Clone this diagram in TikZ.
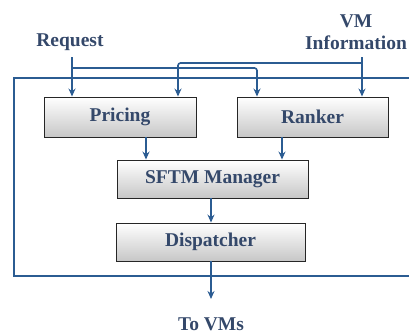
\documentclass[tikz,border=0pt]{standalone}
\usepackage{fontspec}
\setmainfont{Liberation Serif}
\usetikzlibrary{arrows.meta,shadows}
\definecolor{flow}{HTML}{2B5C92}
\definecolor{ink}{HTML}{34486A}
\tikzset{
  module/.style={draw=black!85, line width=0.9pt, top color=white, bottom color=black!22,
    drop shadow={shadow xshift=0.6pt, shadow yshift=-1.4pt, opacity=0.9, fill=black},
    font=\fontsize{19.5}{21}\selectfont\bfseries, text=ink, inner sep=0pt},
  label/.style={font=\fontsize{19.5}{22}\selectfont\bfseries, text=ink, align=center, inner sep=0pt},
  flowline/.style={draw=flow, line width=1.6pt, rounded corners=2.5pt},
  arr/.style={flowline, -{Stealth[length=8pt,width=7pt]}}
}
\begin{document}
\begin{tikzpicture}[x=1pt,y=-1pt]
\useasboundingbox (0,0) rectangle (409,335);
% outer frame of the scheduler
\draw[flow, line width=2.2pt] (14,78) rectangle (430,276);
% modules
\node[module, minimum width=152pt, minimum height=40pt] (pricing) at (120,117) {Pricing};
\node[module, minimum width=151pt, minimum height=40pt] (ranker) at (312.5,117) {Ranker};
\node[module, minimum width=191pt, minimum height=38pt] (sftm) at (212.5,179) {SFTM Manager};
\node[module, minimum width=189pt, minimum height=38pt] (disp) at (210.5,242) {Dispatcher};
% external labels
\node[label] (req) at (70,42) {Request};
\node[label] (vm) at (356,32) {VM\\Information};
\node[label] (tovm) at (211,324) {To VMs};
% anchor points of the input lines
\coordinate (rq) at (72,57);
\coordinate (rqb) at (72,68);
\coordinate (vi) at (362,57);
\coordinate (vib) at (362,63);
\coordinate (rk) at (257,0);
\coordinate (pc) at (178,0);
\coordinate (ps) at (146,0);
\coordinate (rs) at (282,0);
\coordinate (ds) at (211,0);
\coordinate (out) at (211,299);
% inputs
\draw[arr] (rq) -- (pricing.north -| rq);
\draw[arr] (rqb) -| (ranker.north -| rk);
\draw[arr] (vi) -- (ranker.north -| vi);
\draw[arr] (vib) -| (pricing.north -| pc);
% internal flow
\draw[arr] (pricing.south -| ps) -- (sftm.north -| ps);
\draw[arr] (ranker.south -| rs) -- (sftm.north -| rs);
\draw[arr] (sftm.south -| ds) -- (disp.north -| ds);
\draw[arr] (disp.south -| ds) -- (out);
\end{tikzpicture}
\end{document}
